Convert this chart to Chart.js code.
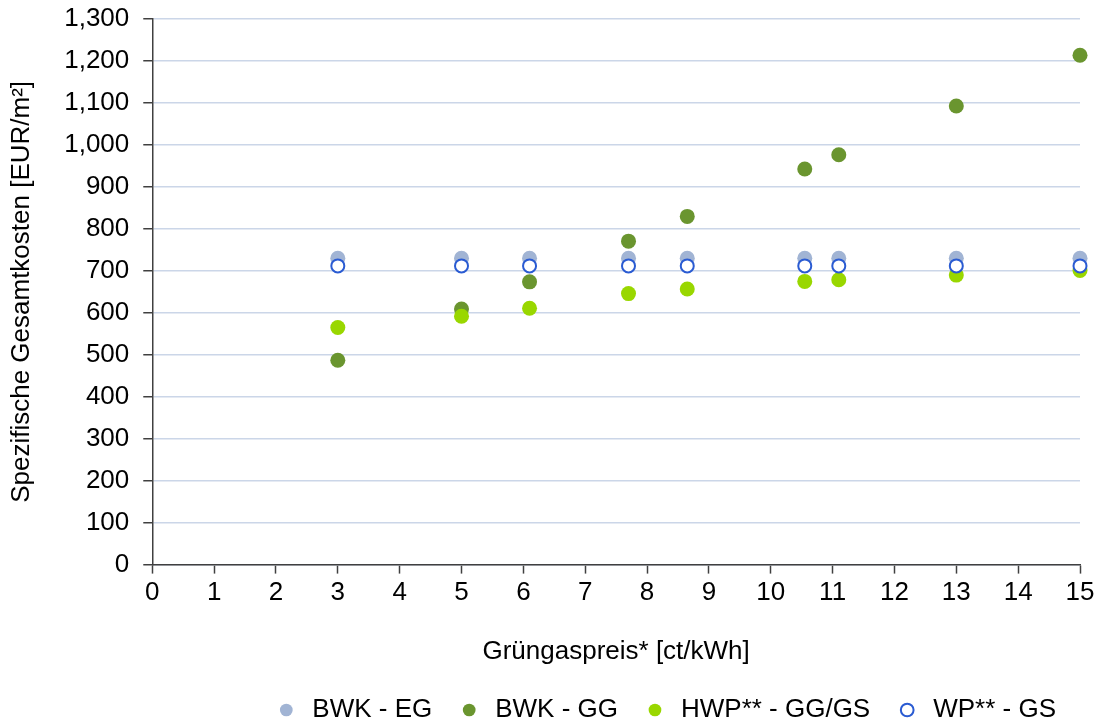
<!DOCTYPE html>
<html>
<head>
<meta charset="utf-8">
<script src="https://cdn.jsdelivr.net/npm/chart.js@4"></script>
<style>
  html, body { margin: 0; padding: 0; background: #fff; }
  #wrap { width: 1101px; height: 725px; }
</style>
</head>
<body>
<div id="wrap"><canvas id="costChart" width="1101" height="725"></canvas></div>
<script>
// Grüngaspreis in ct/kWh
var gasPrice = [3, 5, 6.1, 7.7, 8.65, 10.55, 11.1, 13, 15];

// spezifische Gesamtkosten in EUR/m²
var bwkEG = [730, 730, 730, 730, 730, 730, 730, 730, 730];
var bwkGG = [487, 609, 674, 771, 830, 943, 977, 1093, 1214];
var hwpGG = [565, 592, 611, 646, 657, 675, 679, 690, 701];
var wpGS = [712, 712, 712, 712, 712, 712, 712, 712, 712];

var seriesNames = ["BWK - EG", "BWK - GG", "HWP** - GG/GS", "WP** - GS"];

var yTicks = { min: 0, max: 1300, step: 100 };
var xTicks = { min: 0, max: 15, step: 1 };

function toPoints(values) {
  return values.map(function(v, i) {
    return { x: gasPrice[i], y: v };
  });
}

var axisColor = '#404040';
var gridColor = '#cbd6e8';
var textFont = { family: "'Liberation Sans', Arial, sans-serif", size: 26 };
// small line height keeps the top label from pushing the plot down
var yTickFont = { family: "'Liberation Sans', Arial, sans-serif", size: 26, lineHeight: 0.4 };

var ctx = document.getElementById("costChart").getContext('2d');
var costChart = new Chart(ctx, {
  type: 'scatter',
  data: {
    datasets: [{
        label: seriesNames[0],
        data: toPoints(bwkEG),
        backgroundColor: '#a1b4d4',
        borderWidth: 0,
        pointRadius: 7.5,
        order: 4
      },
      {
        label: seriesNames[1],
        data: toPoints(bwkGG),
        backgroundColor: '#6a952f',
        borderWidth: 0,
        pointRadius: 7.5,
        order: 3
      },
      {
        label: seriesNames[2],
        data: toPoints(hwpGG),
        backgroundColor: '#99d700',
        borderWidth: 0,
        pointRadius: 7.5,
        order: 2
      },
      {
        label: seriesNames[3],
        data: toPoints(wpGS),
        backgroundColor: '#ffffff',
        borderColor: '#2a5bd2',
        borderWidth: 2,
        pointRadius: 6.5,
        order: 1
      }
    ]
  },
  options: {
    responsive: false,
    animation: false,
    clip: false,
    layout: {
      padding: { top: 19, right: 21, bottom: -8, left: 6 }
    },
    plugins: {
      tooltip: { enabled: false },
      legend: {
        position: 'bottom',
        align: 'end',
        labels: {
          usePointStyle: true,
          pointStyle: 'circle',
          boxHeight: 9,
          padding: 24,
          color: '#000',
          font: textFont,
          sort: function(a, b) {
            return a.datasetIndex - b.datasetIndex;
          }
        }
      }
    },
    scales: {
      x: {
        type: 'linear',
        min: xTicks.min,
        max: xTicks.max,
        ticks: {
          stepSize: xTicks.step,
          color: '#000',
          font: textFont,
          padding: 4,
          maxRotation: 0
        },
        grid: {
          drawOnChartArea: false,
          tickLength: 9,
          tickColor: axisColor,
          tickWidth: 1.5
        },
        border: { color: axisColor, width: 1.5 },
        title: {
          display: true,
          text: 'Grüngaspreis* [ct/kWh]',
          color: '#000',
          font: textFont,
          padding: { top: 23, bottom: 6 }
        }
      },
      y: {
        min: yTicks.min,
        max: yTicks.max,
        ticks: {
          stepSize: yTicks.step,
          color: '#000',
          font: yTickFont,
          padding: 14,
          callback: function(v) {
            return v.toLocaleString('en-US');
          }
        },
        grid: {
          color: gridColor,
          lineWidth: 1.5,
          tickLength: 9,
          tickColor: axisColor,
          tickWidth: 1.5
        },
        border: { color: axisColor, width: 1.5 },
        title: {
          display: true,
          text: 'Spezifische Gesamtkosten [EUR/m²]',
          color: '#000',
          font: textFont,
          padding: { top: 0, bottom: 13 }
        }
      }
    }
  }
});
</script>
</body>
</html>
